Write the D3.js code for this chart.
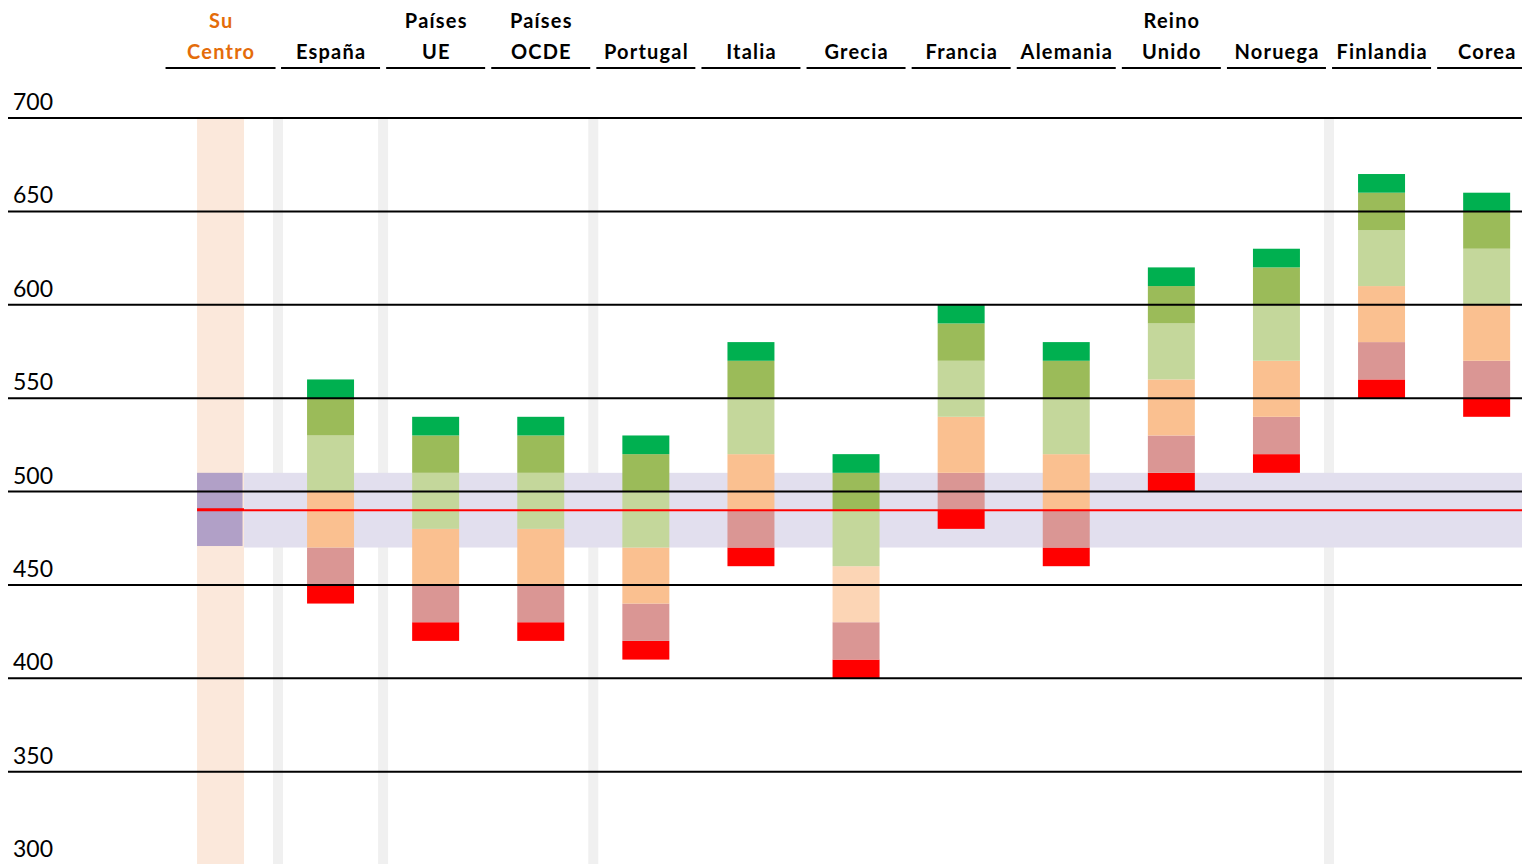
<!DOCTYPE html>
<html>
<head>
<meta charset="utf-8">
<script src="https://cdn.jsdelivr.net/npm/d3@7"></script>
<style>
  html, body { margin: 0; padding: 0; background: #fff; }
  svg { display: block; }
</style>
</head>
<body>
<svg id="chart" width="1522" height="864"></svg>
<script>
// ---------- DATA ----------
const centroLabel = ["Su", "Centro"];
const centroRange = [470, 510];   // banda de su centro
const centroMedia = 490;          // media de su centro

const paises = ["España", "Países UE", "Países OCDE", "Portugal", "Italia", "Grecia",
                "Francia", "Alemania", "Reino Unido", "Noruega", "Finlandia", "Corea"];
const etiquetas = [["España"], ["Países", "UE"], ["Países", "OCDE"], ["Portugal"], ["Italia"],
                   ["Grecia"], ["Francia"], ["Alemania"], ["Reino", "Unido"], ["Noruega"],
                   ["Finlandia"], ["Corea"]];

// percentile boundaries per country
const p05 = [440, 420, 420, 410, 460, 400, 480, 460, 500, 510, 550, 540];
const p10 = [450, 430, 430, 420, 470, 410, 490, 470, 510, 520, 560, 550];
const p25 = [470, 450, 450, 440, 490, 430, 510, 490, 530, 540, 580, 570];
const p50 = [500, 480, 480, 470, 520, 460, 540, 520, 560, 570, 610, 600];
const p75 = [530, 510, 510, 500, 550, 490, 570, 550, 590, 600, 640, 630];
const p90 = [550, 530, 530, 520, 570, 510, 590, 570, 610, 620, 660, 650];
const p95 = [560, 540, 540, 530, 580, 520, 600, 580, 620, 630, 670, 660];

const yTicks = [300, 350, 400, 450, 500, 550, 600, 650, 700];
const separadores = ["España", "Países OCDE", "Noruega"]; // light stripes after these

// ---------- LAYOUT ----------
const W = 1522, H = 864;
const svg = d3.select("#chart");

const y = d3.scaleLinear().domain([300, 700]).range([865, 118]);
const x = d3.scaleBand().domain(paises).range([278, 1539.2])
  .paddingInner(0.553).paddingOuter(0.2765);
const bw = x.bandwidth();
const gap = x.step() - bw;
const centroX = x("España") - x.step() * 1.0467; // left edge of Su Centro column

const colors = {
  red: "#ff0000", pink: "#da9694", peach: "#fac090", peachLight: "#fcd5b5",
  lgreen: "#c4d79b", olive: "#9bbb59", green: "#00b050",
  centroBg: "#fbe8db", centroBox: "#b1a0c7", band: "#e2dfee", stripe: "#f0f0f0"
};

// Su Centro background column
svg.append("rect").attr("x", centroX).attr("y", y(700))
  .attr("width", bw).attr("height", H - y(700)).attr("fill", colors.centroBg);

// separator stripes
const stripeXs = [x("España") - gap / 2].concat(separadores.map(c => x(c) + bw + gap / 2));
svg.selectAll("rect.stripe").data(stripeXs).enter().append("rect")
  .attr("class", "stripe")
  .attr("x", d => d - 5).attr("y", y(700)).attr("width", 10).attr("height", H - y(700))
  .attr("fill", colors.stripe);

// lavender band across the chart
svg.append("rect").attr("x", centroX + bw).attr("y", y(centroRange[1]))
  .attr("width", W - (centroX + bw)).attr("height", y(centroRange[0]) - y(centroRange[1]))
  .attr("fill", colors.band);

// Su Centro box
svg.append("rect").attr("x", centroX).attr("y", y(centroRange[1]))
  .attr("width", bw - 1.5).attr("height", y(centroRange[0]) - y(centroRange[1]) - 1.5)
  .attr("fill", colors.centroBox);

// stacked segments
const segs = [
  { lo: p05, hi: p10, color: colors.red },
  { lo: p10, hi: p25, color: colors.pink },
  { lo: p25, hi: p50, color: colors.peach },
  { lo: p50, hi: p75, color: colors.lgreen },
  { lo: p75, hi: p90, color: colors.olive },
  { lo: p90, hi: p95, color: colors.green }
];
const segData = [];
paises.forEach((c, i) => {
  segs.forEach((s, k) => {
    let col = s.color;
    if (c === "Grecia" && k === 2) col = colors.peachLight;
    segData.push({ c, lo: s.lo[i], hi: s.hi[i], color: col });
  });
});
svg.append("g").selectAll("rect").data(segData).enter().append("rect")
  .attr("x", d => x(d.c)).attr("width", bw)
  .attr("y", d => y(d.hi)).attr("height", d => y(d.lo) - y(d.hi))
  .attr("fill", d => d.color);

// gridlines
svg.append("g").selectAll("line").data(yTicks).enter().append("line")
  .attr("x1", 8).attr("x2", W)
  .attr("y1", d => y(d)).attr("y2", d => y(d))
  .attr("stroke", "#000").attr("stroke-width", 2);

// tick labels
svg.append("g").selectAll("text").data(yTicks).enter().append("text")
  .attr("x", 13).attr("y", d => y(d) - 8)
  .attr("font-family", "Lato, 'Open Sans', sans-serif").attr("font-size", 23)
  .attr("fill", "#000").text(d => d);

// red mean lines
svg.append("line").attr("x1", centroX + bw).attr("x2", W)
  .attr("y1", y(centroMedia)).attr("y2", y(centroMedia))
  .attr("stroke", "#ff0000").attr("stroke-width", 2);
svg.append("line").attr("x1", centroX).attr("x2", centroX + bw)
  .attr("y1", y(centroMedia) - 0.5).attr("y2", y(centroMedia) - 0.5)
  .attr("stroke", "#ff0000").attr("stroke-width", 3);

// header labels
const headFont = "Lato, 'Open Sans', sans-serif";
function header(lines, cx, color, ulx1, ulx2) {
  const g = svg.append("g");
  const base = 59;
  lines.forEach((t, j) => {
    g.append("text").attr("x", cx + 0.6).attr("y", base - (lines.length - 1 - j) * 31)
      .attr("text-anchor", "middle").attr("font-family", headFont)
      .attr("font-weight", "bold").attr("font-size", 20)
      .attr("letter-spacing", 1.2).attr("fill", color).text(t);
  });
  g.append("line").attr("x1", ulx1).attr("x2", ulx2).attr("y1", 68).attr("y2", 68)
    .attr("stroke", "#000").attr("stroke-width", 2);
}
const cCentro = centroX + bw / 2;
header(centroLabel, cCentro, "#e46c0a", cCentro - 55, cCentro + 55);
paises.forEach((c, i) => {
  const cx = x(c) + bw / 2;
  header(etiquetas[i], cx, "#000", cx - 49.5, cx + 49.5);
});
</script>
</body>
</html>
